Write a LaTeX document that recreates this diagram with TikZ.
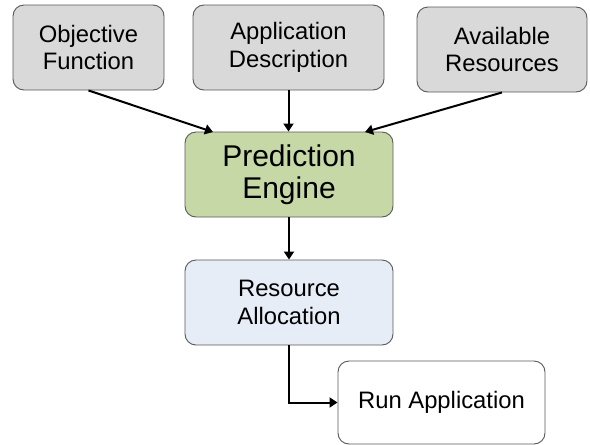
\documentclass[tikz,border=0pt]{standalone}
\usepackage{fontspec}
\setmainfont{Liberation Sans}
\usetikzlibrary{arrows.meta}
\definecolor{boxgray}{HTML}{D9D9D9}
\definecolor{boxgreen}{HTML}{C6D8A6}
\definecolor{boxblue}{HTML}{E7EDF6}
\definecolor{edgegray}{HTML}{595959}
\begin{document}
\begin{tikzpicture}[x=1pt,y=-1pt,
  box/.style={draw=edgegray,line width=0.9pt,rounded corners=11pt,align=center,
    inner sep=0pt,font=\fontsize{23.8}{27.5}\selectfont},
  conn/.style={line width=2pt,-{Triangle[length=8pt,width=10pt]}}]
\useasboundingbox (0,0) rectangle (590,445);
\node[box,fill=boxgray,minimum width=151pt,minimum height=85pt] (obj) at (88.5,47.5) {Objective\\Function};
\node[box,fill=boxgray,minimum width=191pt,minimum height=85pt] (app) at (288.5,47.5) {Application\\Description};
\node[box,fill=boxgray,minimum width=170pt,minimum height=85pt] (avail) at (502,49.5) {Available\\Resources};
\node[box,fill=boxgreen,minimum width=208pt,minimum height=85pt,font=\fontsize{30}{32.5}\selectfont] (pred) at (289,174.5) {Prediction\\Engine};
\node[box,fill=boxblue,minimum width=208pt,minimum height=85pt] (res) at (289,302.5) {Resource\\Allocation};
\node[box,fill=white,minimum width=207pt,minimum height=83pt] (run) at (441.5,402.5) {Run Application};
\coordinate (pl) at (213,132);
\coordinate (pr) at (365,132);
\draw[conn] (obj.south) -- (pl);
\draw[conn] (app.south) -- (app.south |- pred.north);
\draw[conn] (avail.south) -- (pr);
\draw[conn] (pred.south) -- (res.north);
\draw[conn] (res.south) |- (run.west);
\end{tikzpicture}
\end{document}
